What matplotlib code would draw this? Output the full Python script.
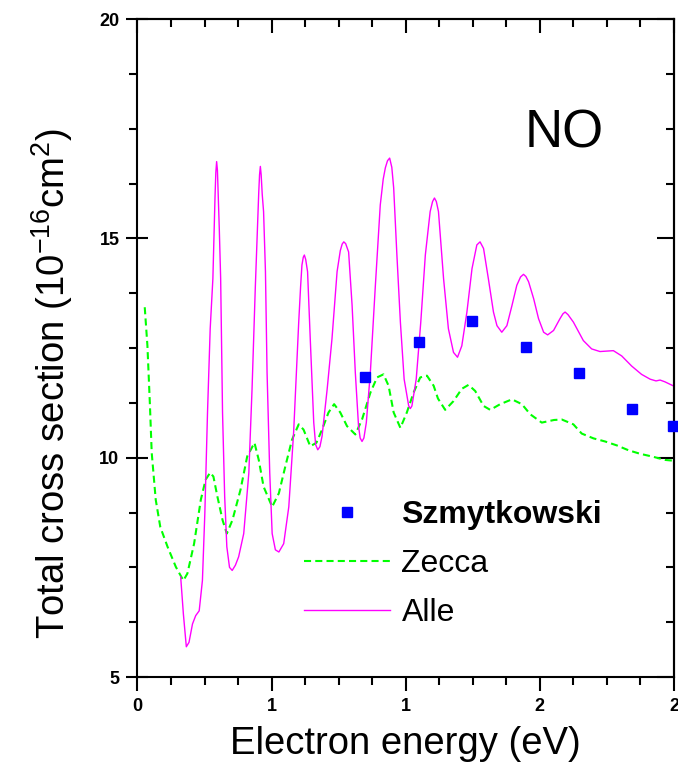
import matplotlib
matplotlib.use("Agg")
import matplotlib.pyplot as plt
from matplotlib.ticker import MultipleLocator, FixedLocator, FixedFormatter

plt.rcParams['font.family'] = ['Liberation Sans', 'DejaVu Sans']
plt.rcParams['mathtext.fontset'] = 'custom'
plt.rcParams['mathtext.rm'] = 'Liberation Sans'
plt.rcParams['mathtext.it'] = 'Liberation Sans:italic'
plt.rcParams['mathtext.bf'] = 'Liberation Sans:bold'

# Szmytkowski measurements
szm_e = [0.847, 1.048, 1.247, 1.448, 1.646, 1.845, 1.995]
szm_q = [11.83, 12.63, 13.12, 12.52, 11.92, 11.12, 10.72]

# Zecca
zec_e = [0.027, 0.037, 0.046, 0.053, 0.068, 0.085, 0.112, 0.143, 0.171, 0.186,
         0.211, 0.236, 0.254, 0.271, 0.283, 0.298, 0.317, 0.333, 0.354, 0.384,
         0.409, 0.436, 0.452, 0.470, 0.502, 0.527, 0.551, 0.576, 0.601, 0.619,
         0.644, 0.667, 0.688, 0.712, 0.733, 0.756, 0.781, 0.812, 0.837, 0.868,
         0.893, 0.917, 0.936, 0.955, 0.980, 1.004, 1.029, 1.054, 1.079, 1.104,
         1.120, 1.147, 1.178, 1.209, 1.234, 1.259, 1.290, 1.315, 1.352, 1.396,
         1.433, 1.464, 1.507, 1.553, 1.582, 1.625, 1.656, 1.700, 1.743, 1.787,
         1.830, 1.873, 1.923, 1.966, 2.000]
zec_q = [13.43, 12.55, 11.25, 10.11, 9.04, 8.42, 7.97, 7.51, 7.20, 7.36,
         8.04, 9.04, 9.50, 9.66, 9.57, 9.11, 8.58, 8.27, 8.58, 9.27,
         10.03, 10.34, 9.95, 9.34, 8.88, 9.19, 9.80, 10.41, 10.76, 10.64,
         10.26, 10.34, 10.64, 11.03, 11.22, 11.03, 10.72, 10.53, 10.87, 11.48,
         11.83, 11.90, 11.64, 11.03, 10.68, 11.03, 11.48, 11.83, 11.87, 11.64,
         11.35, 11.09, 11.29, 11.57, 11.66, 11.52, 11.18, 11.09, 11.22, 11.33,
         11.22, 10.99, 10.80, 10.86, 10.87, 10.76, 10.55, 10.44, 10.37, 10.28,
         10.17, 10.09, 10.02, 9.95, 9.93]

# Alle
alle_e = [0.161, 0.171, 0.182, 0.192, 0.205, 0.217, 0.230, 0.242, 0.251, 0.261,
          0.271, 0.281, 0.285, 0.289, 0.292, 0.295, 0.298, 0.301, 0.305, 0.310,
          0.317, 0.325, 0.333, 0.343, 0.353, 0.365, 0.377, 0.396, 0.415, 0.427,
          0.439, 0.448, 0.452, 0.455, 0.458, 0.461, 0.465, 0.470, 0.477, 0.483,
          0.493, 0.502, 0.514, 0.527, 0.545, 0.564, 0.582, 0.601, 0.608, 0.613,
          0.618, 0.622, 0.627, 0.634, 0.644, 0.657, 0.664, 0.672, 0.680, 0.688,
          0.707, 0.725, 0.744, 0.756, 0.763, 0.769, 0.776, 0.787, 0.800, 0.812,
          0.824, 0.830, 0.837, 0.844, 0.853, 0.868, 0.886, 0.905, 0.916, 0.924,
          0.932, 0.940, 0.948, 0.955, 0.967, 0.980, 0.994, 1.011, 1.017, 1.023,
          1.039, 1.056, 1.073, 1.091, 1.100, 1.107, 1.114, 1.122, 1.141, 1.159,
          1.178, 1.193, 1.209, 1.228, 1.247, 1.265, 1.277, 1.290, 1.308, 1.327,
          1.340, 1.358, 1.377, 1.396, 1.414, 1.428, 1.439, 1.448, 1.458, 1.477,
          1.495, 1.514, 1.529, 1.551, 1.575, 1.586, 1.594, 1.605, 1.625, 1.662,
          1.693, 1.724, 1.750, 1.774, 1.805, 1.842, 1.879, 1.911, 1.933, 1.948,
          1.966, 2.000]
alle_q = [7.28, 6.44, 5.69, 5.79, 6.21, 6.40, 6.51, 7.20, 8.73, 11.03,
          12.94, 14.08, 15.00, 15.95, 16.50, 16.75, 16.55, 16.00, 15.20, 14.08,
          11.03, 9.11, 7.97, 7.50, 7.43, 7.55, 7.74, 8.27, 9.65, 11.56,
          13.85, 15.38, 16.05, 16.45, 16.64, 16.45, 16.00, 15.61, 14.24, 11.94,
          9.65, 8.27, 7.90, 7.85, 8.04, 8.88, 10.57, 13.09, 13.90, 14.39,
          14.57, 14.62, 14.52, 14.24, 12.71, 10.80, 10.30, 10.18, 10.25, 10.49,
          11.56, 12.71, 14.24, 14.72, 14.87, 14.92, 14.88, 14.69, 13.47, 11.94,
          10.72, 10.45, 10.37, 10.45, 10.80, 11.94, 13.85, 15.76, 16.35, 16.61,
          16.77, 16.83, 16.62, 16.15, 14.62, 13.09, 11.79, 11.18, 11.12, 11.18,
          11.79, 13.09, 14.62, 15.61, 15.84, 15.92, 15.84, 15.61, 14.08, 12.94,
          12.40, 12.29, 12.55, 13.32, 14.31, 14.85, 14.92, 14.77, 14.08, 13.32,
          13.01, 12.86, 13.01, 13.47, 13.93, 14.12, 14.18, 14.13, 14.01, 13.62,
          13.17, 12.86, 12.80, 12.90, 13.17, 13.28, 13.32, 13.26, 13.09, 12.67,
          12.48, 12.42, 12.43, 12.44, 12.32, 12.09, 11.90, 11.79, 11.75, 11.77,
          11.73, 11.63]

x_ticks = [0, 0.5, 1.0, 1.5, 2.0]
x_tick_labels = ['0', '1', '1', '2', '2']
y_ticks = [5, 10, 15, 20]

fig = plt.figure(figsize=(6.78, 7.67), dpi=100)
ax = fig.add_axes([0.2028, 0.1173, 0.7913, 0.8579])

ax.plot(szm_e, szm_q, ls='none', marker='s', ms=7.4, color='#0000ff',
        mec='#0000ff', label='Szmytkowski', clip_on=False, zorder=5)
ax.plot(zec_e, zec_q, ls=(0, (3.4, 2.0)), lw=1.5, color='#00ff00', label='Zecca')
ax.plot(alle_e, alle_q, ls='-', lw=1.0, color='#ff00ff', label='Alle')

ax.set_xlim(0, 2)
ax.set_ylim(5, 20)

ax.xaxis.set_major_locator(FixedLocator(x_ticks))
ax.xaxis.set_major_formatter(FixedFormatter(x_tick_labels))
ax.xaxis.set_minor_locator(MultipleLocator(0.125))
ax.yaxis.set_major_locator(FixedLocator(y_ticks))
ax.yaxis.set_minor_locator(MultipleLocator(1.25))

for sp in ax.spines.values():
    sp.set_linewidth(1.5)

ax.tick_params(axis='both', which='both', width=1.5, labelsize=13)
ax.tick_params(axis='x', which='major', direction='out', length=10, pad=5)
ax.tick_params(axis='x', which='minor', direction='out', length=6)
ax.tick_params(axis='y', which='major', direction='inout', length=16, pad=5)
ax.tick_params(axis='y', which='minor', direction='out', length=6)
for lab in ax.get_xticklabels() + ax.get_yticklabels():
    lab.set_fontweight('bold')

# opposite spines carry inward ticks only
sec_x = ax.secondary_xaxis('top')
sec_x.set_xticks(x_ticks)
sec_x.xaxis.set_minor_locator(MultipleLocator(0.125))
sec_x.tick_params(which='major', direction='in', length=10, width=1.5, labeltop=False)
sec_x.tick_params(which='minor', direction='in', length=6, width=1.5)
sec_x.spines['top'].set_linewidth(1.5)
sec_y = ax.secondary_yaxis('right')
sec_y.set_yticks(y_ticks)
sec_y.yaxis.set_minor_locator(MultipleLocator(1.25))
sec_y.tick_params(which='major', direction='in', length=12, width=1.5, labelright=False)
sec_y.tick_params(which='minor', direction='in', length=6, width=1.5)
sec_y.spines['right'].set_linewidth(1.5)

ax.set_xlabel('Electron energy (eV)', fontsize=27.5, labelpad=8)
ax.set_ylabel('Total cross section (10$^{-16}$cm$^{2}$)', fontsize=27.5)
ax.yaxis.set_label_coords(-0.117, 0.447)

ax.text(1.445, 17.07, 'NO', fontsize=38, va='baseline', ha='left')

leg = ax.legend(loc='center left', bbox_to_anchor=(0.4484, 0.2647),
                bbox_transform=fig.transFigure, frameon=False, fontsize=23,
                handlelength=2.7, handletextpad=0.35, labelspacing=0.6,
                borderpad=0, borderaxespad=0, numpoints=1)
leg.get_texts()[0].set_fontweight('bold')

fig.savefig('out.png', dpi=100)
